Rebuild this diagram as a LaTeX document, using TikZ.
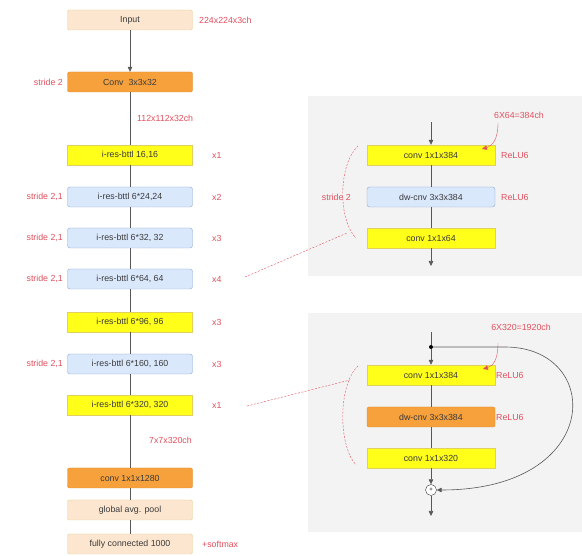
\documentclass[tikz,border=0pt]{standalone}
\usepackage{fontspec}
\setmainfont{Liberation Sans}
\usetikzlibrary{arrows.meta}

\definecolor{yelfill}{HTML}{FFFF1A}
\definecolor{yelline}{HTML}{E0D060}
\definecolor{bluefill}{HTML}{DAE8FC}
\definecolor{blueline}{HTML}{8CA8CF}
\definecolor{orgfill}{HTML}{F7A13C}
\definecolor{orgline}{HTML}{E08A2A}
\definecolor{begfill}{HTML}{FCE6CF}
\definecolor{begline}{HTML}{E8D49C}
\definecolor{lblred}{HTML}{E0505E}
\definecolor{txtgray}{HTML}{3A3A3A}
\definecolor{panelgray}{HTML}{F3F3F3}

\begin{document}
\begin{tikzpicture}[x=1pt,y=-1pt,
    font=\fontsize{8.8}{10}\selectfont,
    blk/.style={draw, minimum height=20pt, inner sep=0pt, text=txtgray},
    leftblk/.style={blk, minimum width=125pt},
    rightblk/.style={blk, minimum width=128pt},
    yelbox/.style={fill=yelfill, draw=yelline},
    bluebox/.style={fill=bluefill, draw=blueline, rounded corners=2.5pt},
    orgbox/.style={fill=orgfill, draw=orgline, rounded corners=2pt},
    begbox/.style={fill=begfill, draw=begline, rounded corners=1.5pt},
    lbl/.style={text=lblred, inner sep=1pt},
    flow/.style={draw=txtgray!85, line width=0.6pt},
    tip/.style={-{Triangle[width=4.5pt,length=5pt]}},
    hint/.style={draw=lblred, thin, dashed, dash pattern=on 2pt off 1.5pt}]

    % Fix the page to the size of the reference
    \useasboundingbox[fill=white] (0,0) rectangle (582,556);

    % Grey panels behind the two blow-ups
    \fill[panelgray] (308,96) rectangle (582,276);
    \fill[panelgray] (308,313) rectangle (582,532);

    % Main network, top to bottom
    \node[leftblk, begbox] (inp) at (130,20) {Input};
    \node[leftblk, orgbox] (conv0) at (130,82) {Conv\ \ 3x3x32};
    \node[leftblk, yelbox] (b1) at (130,155) {i-res-bttl 16,16};
    \node[leftblk, bluebox] (b2) at (130,197) {i-res-bttl 6*24,24};
    \node[leftblk, bluebox] (b3) at (130,238) {i-res-bttl 6*32, 32};
    \node[leftblk, bluebox] (b4) at (130,279) {i-res-bttl 6*64, 64};
    \node[leftblk, yelbox] (b5) at (130,322) {i-res-bttl 6*96, 96};
    \node[leftblk, bluebox] (b6) at (130,364) {i-res-bttl 6*160, 160};
    \node[leftblk, yelbox] (b7) at (130,405) {i-res-bttl 6*320, 320};
    \node[leftblk, orgbox] (conv1) at (130,478) {conv 1x1x1280};
    \node[leftblk, begbox] (pool) at (130,510) {global avg. pool};
    \node[leftblk, begbox] (fc) at (130,544) {fully connected 1000};

    % Connectors of the main network
    \draw[flow, tip] (inp) -- (conv0);
    \draw[flow] (conv0) -- (b1);
    \foreach \a/\b in {b1/b2, b2/b3, b3/b4, b4/b5, b5/b6, b6/b7, b7/conv1, conv1/pool, pool/fc}
        \draw[flow] (\a) -- (\b);

    % Sizes and strides
    \node[lbl, anchor=west] (sz0) at (198,20) {224x224x3ch};
    \node[lbl, anchor=west] (sz1) at (136,118) {112x112x32ch};
    \node[lbl, anchor=west] (sz2) at (148,440) {7x7x320ch};
    \node[lbl, anchor=west] (smax) at (201,544) {+softmax};
    \node[lbl, anchor=east] (st0) at (64,82) {stride 2};
    \foreach \b in {b2, b3, b4, b6}
        \node[lbl, anchor=east] (st-\b) at (64,0 |- \b) {stride 2,1};

    % Repeat counts
    \foreach \b/\n in {b1/1, b2/2, b3/3, b4/4, b5/3, b6/3, b7/1}
        \node[lbl, anchor=west] (rep-\b) at (211,0 |- \b) {x\n};

    % Upper blow-up: bottleneck with stride 2
    \node[rightblk, yelbox] (u1) at (431,155) {conv 1x1x384};
    \node[rightblk, bluebox] (u2) at (431,197) {dw-cnv 3x3x384};
    \node[rightblk, yelbox] (u3) at (431,238) {conv 1x1x64};
    \coordinate (uin) at (431,122);
    \coordinate (uout) at (431,266);
    \draw[flow, tip] (uin) -- (u1);
    \draw[flow] (u1) -- (u2) -- (u3);
    \draw[flow, tip] (u3) -- (uout);
    \node[lbl, anchor=west] (ur1) at (500,155) {ReLU6};
    \node[lbl, anchor=west] (ur2) at (500,197) {ReLU6};
    \node[lbl] (uch) at (519,115) {6X64=384ch};
    \draw[draw=lblred, thin, tip] (498,123) .. controls (498,140) and (492,146) .. (482,149);
    \node[lbl, anchor=east] (ust) at (352,197) {stride 2};
    \draw[hint] (358,146) .. controls (338,165) and (338,220) .. (356,238);
    \coordinate (ufrom) at (245,277);
    \coordinate (uto) at (347,233);
    \draw[hint] (ufrom) -- (uto);

    % Lower blow-up: bottleneck with the skip connection
    \node[rightblk, yelbox] (w1) at (431,375) {conv 1x1x384};
    \node[rightblk, orgbox] (w2) at (431,417) {dw-cnv 3x3x384};
    \node[rightblk, yelbox] (w3) at (431,458) {conv 1x1x320};
    \node[draw=txtgray, circle, fill=white, inner sep=0pt, minimum size=11pt,
          font=\fontsize{6}{6}\selectfont] (wsum) at (431,490) {+};
    \coordinate (win) at (431,332);
    \node[circle, fill=black, inner sep=0pt, minimum size=4pt] (wsplit) at (431,347) {};
    \coordinate (wout) at (431,516);
    \draw[flow] (win) -- (wsplit);
    \draw[flow, tip] (wsplit) -- (w1);
    \draw[flow] (w1) -- (w2) -- (w3);
    \draw[flow, tip] (w3) -- (wsum);
    \draw[flow, tip] (wsum) -- (wout);
    \draw[flow, tip] (wsplit) -- (505,347) .. controls (604,347) and (604,490) .. (wsum.east);
    \node[lbl, anchor=west] (wr1) at (495,375) {ReLU6};
    \node[lbl, anchor=west] (wr2) at (495,417) {ReLU6};
    \node[lbl] (wch) at (521,327) {6X320=1920ch};
    \draw[draw=lblred, thin, tip] (498,343) .. controls (498,360) and (493,366) .. (483,369);
    \draw[hint] (358,366) .. controls (338,385) and (338,445) .. (356,465);
    \coordinate (wfrom) at (247,406);
    \coordinate (wto) at (350,380);
    \draw[hint] (wfrom) -- (wto);

\end{tikzpicture}
\end{document}
